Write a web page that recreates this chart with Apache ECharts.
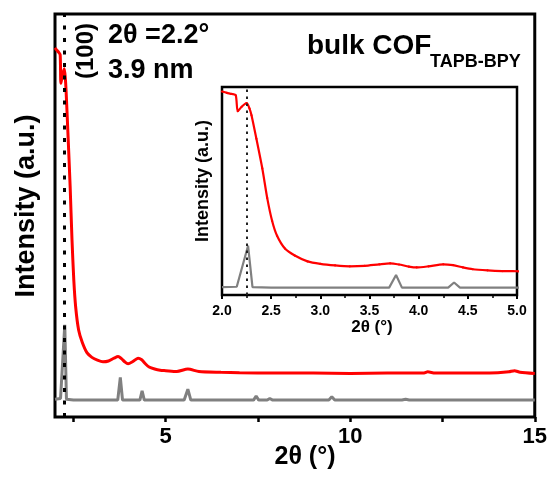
<!DOCTYPE html>
<html>
<head>
<meta charset="utf-8">
<script src="https://cdn.jsdelivr.net/npm/echarts@6/dist/echarts.min.js"></script>
<style>html,body{margin:0;padding:0;background:#fff}#c{width:550px;height:479px}</style>
</head>
<body>
<div id="c"></div>
<script>
// ---- data (2θ in degrees, intensity in arbitrary units) ----
const redX = [2.00,2.05,2.10,2.14,2.16,2.20,2.25,2.28,2.30,2.35,2.41,2.46,2.51,2.56,2.64,2.74,2.87,3.00,3.15,3.30,3.45,3.60,3.71,3.80,3.90,3.98,4.10,4.25,4.35,4.45,4.55,4.70,4.85,5.00,5.30,5.60,5.90,6.50,7.00,8.00,9.00,10.00,11.00,12.00,12.10,12.30,13.00,14.00,14.30,14.45,14.60,15.00];
const redY = [91.6,91.0,90.5,89.9,82.8,84.8,86.4,84.0,81.0,70.5,57.3,44.1,33.9,27.3,21.6,18.5,15.9,14.8,14.1,13.7,13.9,14.6,15.0,14.5,13.6,13.2,13.7,14.6,14.2,13.2,12.4,11.9,11.6,11.5,11.3,11.9,11.3,11.1,11.0,10.9,10.9,10.8,10.9,10.9,11.2,10.9,10.9,11.0,11.2,11.5,11.1,10.8];
const grayX = [2.00,2.15,2.265,2.31,2.50,3.70,3.77,3.83,4.30,4.36,4.42,5.50,5.60,5.68,7.38,7.45,7.52,7.75,7.82,7.90,9.42,9.50,9.58,11.40,11.50,11.60,13.45,13.50,13.55,15.00];
const grayY = [4.4,4.6,22.9,4.4,4.2,4.2,9.8,4.2,4.2,6.5,4.2,4.2,6.9,4.2,4.2,5.2,4.2,4.2,4.6,4.2,4.2,5.0,4.2,4.2,4.4,4.2,4.2,4.35,4.2,4.2];
const peakPos = 2.25;
const mainTickLabels = [5, 10, 15];
const mainTicks = [2.5, 5, 7.5, 10, 12.5, 15];

const redData = redX.map((x, i) => [x, redY[i]]);
const grayData = grayX.map((x, i) => [x, grayY[i]]);
const insetRed = redData.filter(d => d[0] <= 5.3);
const insetGray = grayData.filter(d => d[0] <= 5.6);

const FF = '"Liberation Sans", Arial, sans-serif';
const chart = echarts.init(document.getElementById('c'), null, {renderer: 'canvas'});

chart.setOption({
  animation: false,
  backgroundColor: '#fff',
  grid: [
    {left: 55, top: 14, width: 482, height: 403, show: true, borderColor: '#000', borderWidth: 3, backgroundColor: 'transparent', containLabel: false},
    {left: 222, top: 87, width: 295, height: 208, show: true, borderColor: '#000', borderWidth: 2.5, backgroundColor: '#fff', containLabel: false}
  ],
  xAxis: [
    {
      type: 'value', gridIndex: 0, min: 2, max: 15,
      axisLine: {show: false},
      splitLine: {show: false},
      axisTick: {show: true, inside: false, length: 5, customValues: mainTicks, lineStyle: {color: '#000', width: 2.5}},
      axisLabel: {show: true, customValues: mainTickLabels, margin: 9, color: '#000', fontFamily: FF, fontWeight: 'bold', fontSize: 22}
    },
    {
      type: 'value', gridIndex: 1, min: 2, max: 5, interval: 0.5,
      axisLine: {show: false},
      splitLine: {show: false},
      axisTick: {show: true, inside: false, length: 4, lineStyle: {color: '#000', width: 2}},
      minorTick: {show: true, splitNumber: 2, length: 3, lineStyle: {color: '#000', width: 1.5}},
      axisLabel: {show: true, margin: 9, color: '#000', fontFamily: FF, fontWeight: 'bold', fontSize: 14, formatter: v => v.toFixed(1)}
    }
  ],
  yAxis: [
    {type: 'value', gridIndex: 0, min: 0, max: 100, axisLine: {show: false}, axisTick: {show: false}, axisLabel: {show: false}, splitLine: {show: false}},
    {type: 'value', gridIndex: 1, min: 0.92, max: 93.6, axisLine: {show: false}, axisTick: {show: false}, axisLabel: {show: false}, splitLine: {show: false}}
  ],
  series: [
    {
      type: 'line', xAxisIndex: 0, yAxisIndex: 0, data: grayData, showSymbol: false,
      lineStyle: {color: '#808080', width: 3}, z: 3
    },
    {
      type: 'line', xAxisIndex: 0, yAxisIndex: 0, data: redData, showSymbol: false, smooth: 0.25,
      lineStyle: {color: '#ff0000', width: 3}, z: 4,
      markLine: {
        silent: true, symbol: ['none', 'none'], label: {show: false},
        lineStyle: {color: '#000', type: [4, 8.5], width: 3},
        data: [{xAxis: peakPos}]
      }
    },
    {
      type: 'line', xAxisIndex: 1, yAxisIndex: 1, data: insetGray, showSymbol: false,
      lineStyle: {color: '#808080', width: 2.2}, z: 3
    },
    {
      type: 'line', xAxisIndex: 1, yAxisIndex: 1, data: insetRed, showSymbol: true, symbol: 'circle', symbolSize: 2.2, smooth: 0.25,
      itemStyle: {color: '#ff0000', borderWidth: 0},
      lineStyle: {color: '#ff0000', width: 2.2}, z: 4,
      markLine: {
        silent: true, symbol: ['none', 'none'], label: {show: false},
        lineStyle: {color: '#222', type: [2.5, 4.5], width: 2},
        data: [{xAxis: peakPos}]
      }
    }
  ],
  graphic: [
    {type: 'text', x: 27, y: 206, rotation: Math.PI / 2, z: 100,
      style: {text: 'Intensity (a.u.)', fontFamily: FF, fontWeight: 'bold', fontSize: 27, fill: '#000', align: 'center', verticalAlign: 'middle'}},
    {type: 'text', x: 305, y: 457, z: 100,
      style: {text: '2θ (°)', fontFamily: FF, fontWeight: 'bold', fontSize: 25, fill: '#000', align: 'center', verticalAlign: 'middle'}},
    {type: 'text', x: 86, y: 51, rotation: Math.PI / 2, z: 100,
      style: {text: '(100)', fontFamily: FF, fontWeight: 'bold', fontSize: 24, fill: '#000', align: 'center', verticalAlign: 'middle'}},
    {type: 'text', x: 108, y: 36, z: 100,
      style: {text: '2θ =2.2°', fontFamily: FF, fontWeight: 'bold', fontSize: 27, fill: '#000', align: 'left', verticalAlign: 'middle'}},
    {type: 'text', x: 108, y: 71, z: 100,
      style: {text: '3.9 nm', fontFamily: FF, fontWeight: 'bold', fontSize: 27, fill: '#000', align: 'left', verticalAlign: 'middle'}},
    {type: 'text', x: 307, y: 46, z: 100,
      style: {text: 'bulk COF', fontFamily: FF, fontWeight: 'bold', fontSize: 28, fill: '#000', align: 'left', verticalAlign: 'middle'}},
    {type: 'text', x: 430, y: 62, z: 100,
      style: {text: 'TAPB-BPY', fontFamily: FF, fontWeight: 'bold', fontSize: 18, fill: '#000', align: 'left', verticalAlign: 'middle'}},
    {type: 'text', x: 203, y: 181, rotation: Math.PI / 2, z: 100,
      style: {text: 'Intensity (a.u.)', fontFamily: FF, fontWeight: 'bold', fontSize: 18, fill: '#000', align: 'center', verticalAlign: 'middle'}},
    {type: 'text', x: 372, y: 327, z: 100,
      style: {text: '2θ (°)', fontFamily: FF, fontWeight: 'bold', fontSize: 17, fill: '#000', align: 'center', verticalAlign: 'middle'}}
  ]
});
</script>
</body>
</html>
